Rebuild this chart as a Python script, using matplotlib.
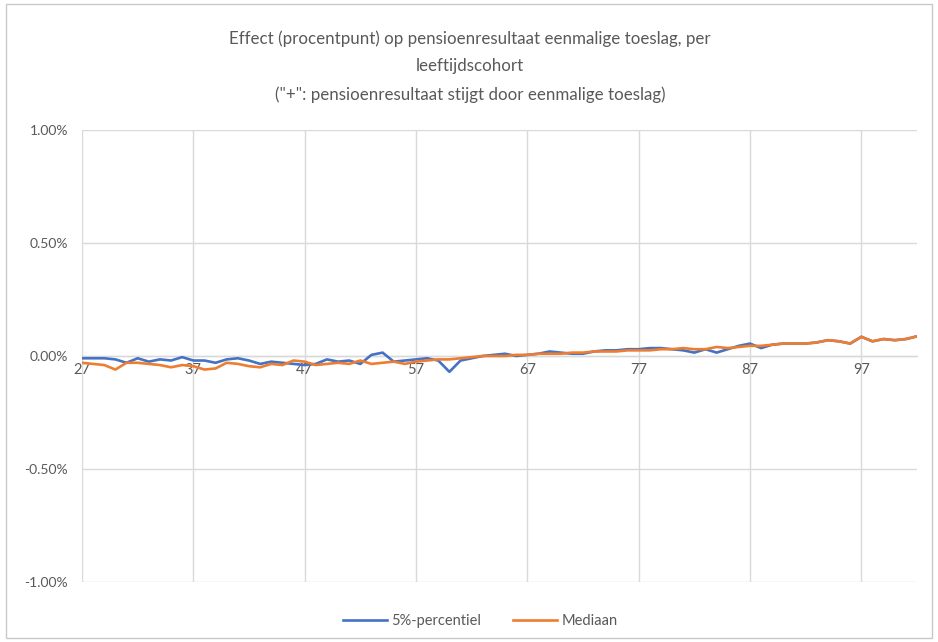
import numpy as np
import matplotlib
matplotlib.use("Agg")
import matplotlib.pyplot as plt
from matplotlib.patches import Rectangle
from matplotlib.ticker import FuncFormatter

# --- data (values in %) ---
ages = list(range(27, 103))

p5 = [
    -0.010, -0.010, -0.010, -0.015, -0.030, -0.010, -0.025, -0.015, -0.020, -0.005,
    -0.020, -0.020, -0.030, -0.015, -0.010, -0.020, -0.035, -0.025, -0.030, -0.035,
    -0.040, -0.035, -0.015, -0.025, -0.020, -0.035, 0.005, 0.015, -0.025, -0.020,
    -0.015, -0.010, -0.020, -0.070, -0.020, -0.010, 0.000, 0.005, 0.010, 0.000,
    0.005, 0.010, 0.020, 0.015, 0.010, 0.010, 0.020, 0.025, 0.025, 0.030,
    0.030, 0.035, 0.035, 0.030, 0.025, 0.015, 0.030, 0.015, 0.030, 0.045,
    0.055, 0.035, 0.050, 0.055, 0.055, 0.055, 0.060, 0.070, 0.065, 0.055,
    0.085, 0.065, 0.075, 0.070, 0.075, 0.087,
]

mediaan = [
    -0.030, -0.035, -0.040, -0.060, -0.030, -0.030, -0.035, -0.040, -0.050, -0.040,
    -0.045, -0.060, -0.055, -0.030, -0.035, -0.045, -0.050, -0.035, -0.040, -0.020,
    -0.025, -0.040, -0.035, -0.030, -0.035, -0.020, -0.035, -0.030, -0.025, -0.035,
    -0.025, -0.020, -0.015, -0.015, -0.010, -0.005, 0.000, 0.000, 0.000, 0.005,
    0.005, 0.010, 0.010, 0.010, 0.015, 0.015, 0.020, 0.020, 0.020, 0.025,
    0.025, 0.025, 0.030, 0.030, 0.035, 0.030, 0.030, 0.040, 0.035, 0.040,
    0.045, 0.045, 0.050, 0.055, 0.055, 0.055, 0.060, 0.070, 0.065, 0.055,
    0.085, 0.065, 0.075, 0.070, 0.075, 0.087,
]

x_ticks = list(range(27, 103, 10))
y_ticks = [-1.0, -0.5, 0.0, 0.5, 1.0]

title = ("Effect (procentpunt) op pensioenresultaat eenmalige toeslag, per\n"
         "leeftijdscohort\n"
         "(\"+\": pensioenresultaat stijgt door eenmalige toeslag)")

BLUE = "#4472C4"
ORANGE = "#ED7D31"
GRID = "#D9D9D9"
TXT = "#595959"

plt.rcParams['font.family'] = ['Lato', 'DejaVu Sans']

fig = plt.figure(figsize=(9.38, 6.42), dpi=100)
fig.patches.append(Rectangle((0.006, 0.006), 0.988, 0.988, transform=fig.transFigure,
                             fill=False, edgecolor="#C8C8C8", lw=1.0))

ax = fig.add_axes([82 / 938, 1 - 582 / 642, (917 - 82) / 938, (582 - 130) / 642])

ax.plot(ages, p5, color=BLUE, lw=1.9, label="5%-percentiel", zorder=3)
ax.plot(ages, mediaan, color=ORANGE, lw=1.9, label="Mediaan", zorder=4)

ax.set_xlim(27, 102)
ax.set_ylim(-1.0, 1.0)
ax.set_xticks(x_ticks)
ax.set_yticks(y_ticks)
ax.yaxis.set_major_formatter(FuncFormatter(lambda v, p: f"{v:.2f}%"))

ax.grid(True, color=GRID, lw=1.0, zorder=0)
for s in ["top", "right", "left"]:
    ax.spines[s].set_visible(False)
ax.spines["bottom"].set_position(("data", 0))
ax.spines["bottom"].set_color(GRID)
ax.spines["bottom"].set_linewidth(1.0)
ax.tick_params(axis="both", length=0, labelsize=10, labelcolor=TXT)
ax.tick_params(axis="x", labelsize=10.5, pad=5)
ax.tick_params(axis="y", pad=10)

fig.text(0.501, 0.952, title, ha="center", va="top", fontsize=12.2,
         color=TXT, linespacing=1.85)

fig.legend(loc="center", bbox_to_anchor=(0.512, 0.033), ncol=2, frameon=False,
           fontsize=10.5, labelcolor=TXT, handlelength=3.0, handletextpad=0.3,
           columnspacing=2.2)

fig.savefig("out.png", dpi=100)
